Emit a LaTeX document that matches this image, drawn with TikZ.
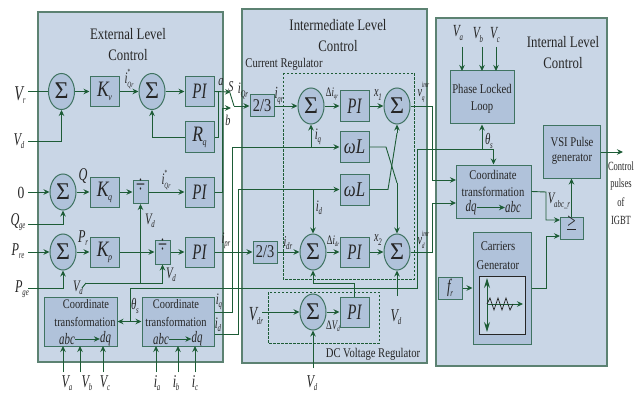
\documentclass[tikz,border=0pt]{standalone}
\usepackage{fontspec}
\setmainfont{Liberation Serif}
\newfontfamily\cond[FakeStretch=0.8]{Liberation Serif}
\newfontfamily\condb[FakeStretch=0.68]{Liberation Serif}
\usetikzlibrary{arrows.meta,shapes.geometric}
\definecolor{panelf}{HTML}{C9D6E6}
\definecolor{paneld}{HTML}{5C8272}
\definecolor{blockf}{HTML}{B0C2DA}
\definecolor{blockd}{HTML}{3F7361}
\definecolor{wire}{HTML}{1D5C36}
\definecolor{ink}{HTML}{262626}
\newcommand\fz[1]{\fontsize{#1}{#1}\selectfont}
% italic letter with subscript
\newcommand\IS[3]{\condb\fz{#1}\itshape #2\kern-.3pt\raisebox{-3.5pt}{\fz{10}#3}}
\newcommand\ISk[3]{\cond\fz{#1}\itshape #2\kern-.5pt\raisebox{-4pt}{\fz{10}#3}}
% italic letter with super and subscript
\newcommand\ISS[4]{\condb\fz{#1}\itshape #2\kern-.3pt\rlap{\raisebox{8.5pt}{\fz{8}#3}}\raisebox{-4pt}{\fz{8}#4}}
\newcommand\Sg{\smash{\raisebox{-7.5pt}{\makebox[0pt]{\fz{24}Σ}}}}
\tikzset{
  x=1pt,y=-1pt,
  panel/.style={draw=paneld,fill=panelf,line width=1.1pt},
  blk/.style={draw=blockd,fill=blockf,line width=1pt,inner sep=0pt,text=ink,font=\condb},
  sumb/.style={ellipse,draw=blockd,fill=blockf,line width=1pt,inner sep=0pt,minimum width=26,minimum height=36,text=ink},
  txt/.style={inner sep=0pt,text=ink,font=\cond},
  wr/.style={draw=wire,line width=.9pt},
  arr/.style={wr,-{Stealth[length=6pt,width=5.5pt]}},
  darr/.style={wr,{Stealth[length=6pt,width=5.5pt]}-{Stealth[length=6pt,width=5.5pt]}},
  dsh/.style={draw=wire,line width=.8pt,dash pattern=on 2.5pt off 1.5pt},
}
\begin{document}
\begin{tikzpicture}
\useasboundingbox (0,0) rectangle (634,393);
\fill[white] (0,0) rectangle (634,393);
% panels
\draw[panel] (38,12) rectangle (223,362);
\draw[panel] (242,9) rectangle (427,363);
\draw[panel] (436,18) rectangle (607,366);
\draw[dsh] (283,73) rectangle (414,279);
\draw[dsh] (268,292) rectangle (379,343);
% titles
\node[txt,font=\cond\fz{16}] (t1) at (128,34) {External Level};
\node[txt,font=\cond\fz{16}] (t2) at (128,55) {Control};
\node[txt,font=\cond\fz{16}] (t3) at (338,25) {Intermediate Level};
\node[txt,font=\cond\fz{16}] (t4) at (338,46) {Control};
\node[txt,font=\cond\fz{16}] (t5) at (563,42) {Internal Level};
\node[txt,font=\cond\fz{16}] (t6) at (563,63) {Control};
\node[txt,font=\cond\fz{13.3}] (t7) at (284,64) {Current Regulator};
\node[txt,font=\cond\fz{13.3}] (t8) at (373,354) {DC Voltage Regulator};
% external blocks
\node[sumb] (s1) at (61.5,91.5) {\Sg};
\node[blk,minimum width=29,minimum height=30] (kv) at (104.5,91.5) {\ISk{22}{K}{v}};
\node[sumb] (s2) at (152,91.5) {\Sg};
\node[blk,minimum width=29,minimum height=30] (pi1) at (199.5,91.5) {\condb\fz{22}\itshape PI};
\node[blk,minimum width=29,minimum height=30] (rq) at (199.5,137) {\ISk{22}{R}{q}};
\node[sumb] (s3) at (63,192) {\Sg};
\node[blk,minimum width=29,minimum height=30] (kq) at (104.5,192) {\ISk{22}{K}{q}};
\node[blk,minimum width=15,minimum height=23] (d1) at (140.5,192) {\smash{\fz{24}÷}};
\node[blk,minimum width=29,minimum height=30] (pi2) at (199.5,192) {\condb\fz{22}\itshape PI};
\node[sumb] (s4) at (63,252) {\Sg};
\node[blk,minimum width=29,minimum height=30] (kp) at (104.5,252) {\ISk{22}{K}{p}};
\node[blk,minimum width=15,minimum height=24] (d2) at (162.5,252) {\smash{\fz{24}÷}};
\node[blk,minimum width=29,minimum height=30] (pi3) at (199.5,252) {\condb\fz{22}\itshape PI};
\node[blk,minimum width=73,minimum height=49] (ct1) at (80.5,321.5) {};
\node[blk,minimum width=72,minimum height=49] (ct2) at (178,321.5) {};
% intermediate blocks
\node[blk,minimum width=24,minimum height=22,font=\cond\fz{18}] (f1) at (262,106) {2/3};
\node[sumb] (s5) at (311,106) {\Sg};
\node[blk,minimum width=29,minimum height=31] (pi4) at (354.5,106) {\condb\fz{22}\itshape PI};
\node[sumb] (s6) at (397,106) {\Sg};
\node[blk,minimum width=29,minimum height=30] (wl1) at (354.5,147) {\cond\fz{21}\itshape ωL};
\node[blk,minimum width=29,minimum height=31] (wl2) at (354.5,189.5) {\cond\fz{21}\itshape ωL};
\node[blk,minimum width=24,minimum height=22,font=\cond\fz{18}] (f2) at (265,252) {2/3};
\node[sumb] (s7) at (313,252) {\Sg};
\node[blk,minimum width=29,minimum height=30] (pi5) at (354.5,252) {\condb\fz{22}\itshape PI};
\node[sumb] (s8) at (397,252) {\Sg};
\node[sumb] (s9) at (313,312) {\Sg};
\node[blk,minimum width=29,minimum height=30] (pi6) at (354.5,312) {\condb\fz{22}\itshape PI};
% internal blocks
\node[blk,minimum width=64,minimum height=53] (pll) at (482,97.5) {};
\node[blk,minimum width=57,minimum height=52] (vsi) at (571.5,152) {};
\node[blk,minimum width=75,minimum height=53] (ct3) at (493.5,191.5) {};
\node[blk,minimum width=23,minimum height=22] (ge) at (571.5,228) {\smash{\fz{22}\underline{>}}};
\node[blk,minimum width=58,minimum height=112] (cg) at (502,288) {};
\node[draw=black!85,fill=panelf,line width=.8pt,minimum width=46,minimum height=58,inner sep=0pt] (plot) at (502,305) {};
\node[blk,minimum width=24,minimum height=22] (fr) at (450,288) {\IS{19}{f}{r}};
% block texts
\node[txt,font=\cond\fz{13}] (c1a) at (86,304.5) {Coordinate};
\node[txt,font=\cond\fz{13}] (c1b) at (85,322) {transformation};
\node[txt,font=\condb\fz{16}\itshape] (c1c) at (67,339) {abc};
\node[txt,font=\condb\fz{16}\itshape] (c1d) at (105.5,339) {dq};
\node[txt,font=\cond\fz{13}] (c2a) at (176,304.5) {Coordinate};
\node[txt,font=\cond\fz{13}] (c2b) at (176,322) {transformation};
\node[txt,font=\condb\fz{16}\itshape] (c2c) at (161,339) {abc};
\node[txt,font=\condb\fz{16}\itshape] (c2d) at (197,339) {dq};
\node[txt,font=\cond\fz{13.3}] (c3a) at (493,175) {Coordinate};
\node[txt,font=\cond\fz{13.3}] (c3b) at (493,191.5) {transformation};
\node[txt,font=\condb\fz{16}\itshape] (c3c) at (471,207.5) {dq};
\node[txt,font=\condb\fz{16}\itshape] (c3d) at (513,207.5) {abc};
\node[txt,font=\cond\fz{13.3}] (p1) at (482,89) {Phase Locked};
\node[txt,font=\cond\fz{13.3}] (p2) at (482,108) {Loop};
\node[txt,font=\cond\fz{13.3}] (v1) at (572,142) {VSI Pulse};
\node[txt,font=\cond\fz{13.3}] (v2) at (572,159) {generator};
\node[txt,font=\cond\fz{13.3}] (g1) at (498,246) {Carriers};
\node[txt,font=\cond\fz{13.3}] (g2) at (498,265) {Generator};
\node[txt,font=\condb\fz{12.5}] (o1) at (621,166) {Control};
\node[txt,font=\condb\fz{12.5}] (o2) at (621,184) {pulses};
\node[txt,font=\condb\fz{12.5}] (o3) at (621,202) {of};
\node[txt,font=\condb\fz{12.5}] (o4) at (621,220) {IGBT};
% outer labels
\node[txt] (Vr) at (20,95) {\IS{21}{V}{r}};
\node[txt] (Vd) at (19,141) {\IS{18}{V}{d}};
\node[txt,font=\cond\fz{17}] (zero) at (21,193) {0};
\node[txt] (Qge) at (18,222) {\IS{18}{Q}{ge}};
\node[txt] (Pre) at (18,251) {\IS{18}{P}{re}};
\node[txt] (Pge) at (22,289) {\IS{18}{P}{ge}};
\node[txt] (iQ1) at (129,79) {\ISS{16}{i}{*}{Qr}};
\node[txt] (iQ2) at (166,180) {\ISS{16}{i}{*}{Qr}};
\node[txt,font=\condb\fz{18}\itshape] (Qa) at (83,176) {Q};
\node[txt] (Pr) at (83,238) {\IS{18}{P}{r}};
\node[txt,font=\condb\fz{15}\itshape] (la) at (221,82) {a};
\node[txt,font=\condb\fz{15}\itshape] (lS) at (231,87) {S};
\node[txt,font=\condb\fz{15}\itshape] (lb) at (228,120) {b};
\node[txt] (iQr) at (243,91) {\IS{16}{i}{Qr}};
\node[txt] (ipr) at (226,241) {\IS{16}{i}{pr}};
\node[txt] (Vd2) at (150,221) {\IS{16}{V}{d}};
\node[txt] (Vd3) at (171,275) {\IS{16}{V}{d}};
\node[txt] (Vd4) at (78,288) {\IS{16}{V}{d}};
\node[txt] (th1) at (135,306) {\IS{16}{θ}{s}};
\node[txt] (iq1) at (219,302) {\IS{16}{i}{q}};
\node[txt] (id1) at (218,325) {\IS{16}{i}{d}};
\node[txt] (Va1) at (67,383) {\IS{18}{V}{a}};
\node[txt] (Vb1) at (87,383) {\IS{18}{V}{b}};
\node[txt] (Vc1) at (105,383) {\IS{18}{V}{c}};
\node[txt] (ia) at (157,383) {\IS{18}{i}{a}};
\node[txt] (ib) at (176,383) {\IS{18}{i}{b}};
\node[txt] (ic) at (195,383) {\IS{18}{i}{c}};
\node[txt] (iqr) at (279,96) {\IS{17}{i}{qr}};
\node[txt] (dq1) at (332,94) {\condb\fz{13}Δ\itshape i\raisebox{-2.5pt}{\fz{7}qr}};
\node[txt] (x1) at (378,95) {\IS{15}{x}{1}};
\node[txt] (vq) at (421,92) {\ISS{15}{v}{imr}{q}};
\node[txt] (iq2) at (318,137) {\IS{16}{i}{q}};
\node[txt] (id2) at (319,208) {\IS{16}{i}{d}};
\node[txt] (idr) at (288,243) {\IS{15}{i}{dr}};
\node[txt] (dq2) at (333,241) {\condb\fz{13}Δ\itshape i\raisebox{-2.5pt}{\fz{7}dr}};
\node[txt] (x2) at (378,240) {\IS{15}{x}{2}};
\node[txt] (vd) at (421,240) {\ISS{15}{v}{imr}{d}};
\node[txt] (Vdr) at (256,316) {\IS{20}{V}{dr}};
\node[txt] (dV) at (333,326) {\condb\fz{13}Δ\itshape V\raisebox{-2.5pt}{\fz{8}d}};
\node[txt] (Vd5) at (396,317) {\IS{18}{V}{d}};
\node[txt] (Vd6) at (312,383) {\IS{18}{V}{d}};
\node[txt] (Va2) at (458,33) {\IS{17}{V}{a}};
\node[txt] (Vb2) at (478,35) {\IS{17}{V}{b}};
\node[txt] (Vc2) at (495,35) {\IS{17}{V}{c}};
\node[txt] (th2) at (489,141) {\IS{16}{θ}{s}};
\node[txt] (Vabc) at (559,201) {\IS{16}{V}{abc\_r}};
% free ends
\coordinate (eVr) at (28,91.5);
\coordinate (eVd) at (28,141);
\coordinate (e0) at (28,192);
\coordinate (eQ) at (28,224);
\coordinate (eP) at (28,252);
\coordinate (ePg) at (28,288);
\coordinate (swA) at (231,92);
\coordinate (swB) at (231,108);
\coordinate (sw1) at (230,93);
\coordinate (sw2) at (234,106);
\coordinate (jR) at (218,91.5);
\coordinate (jB) at (222,108);
\coordinate (vdL) at (82,288);
\coordinate (vdM) at (86,283);
\coordinate (thJ) at (130,288);
\coordinate (thR) at (417,288);
\coordinate (thT) at (417,149);
\coordinate (thU) at (482,149);
\coordinate (thA) at (493.5,149);
\coordinate (x1a) at (386,147);
\coordinate (x1b) at (397,183);
\coordinate (x2a) at (388,189.5);
\coordinate (x2b) at (397,133);
% external connectors
\draw[wr] (eVr) -- (s1);
\draw[arr] (eVd) -| (s1.south);
\draw[arr] (s1) -- (kv);
\draw[arr] (kv) -- (s2);
\draw[arr] (s2) -- (pi1);
\draw[arr] (rq.west) -| (s2.south);
\draw[arr] (pi1.east) -- (swA);
\draw[wr] (rq.east) -| (jR);
\draw[arr] (pi2.east) -| (jB) -- (swB);
\draw[arr] (e0) -- (s3);
\draw[arr] (eQ) -| (s3.south);
\draw[arr] (s3) -- (kq);
\draw[arr] (kq) -- (d1);
\draw[arr] (d1) -- (pi2);
\draw[arr] (eP) -- (s4);
\draw[arr] (ePg) -| (s4.south);
\draw[arr] (s4) -- (kp);
\draw[arr] (kp) -- (d2);
\draw[arr] (d2) -- (pi3);
\draw[arr] (pi3) -- (f2);
\draw[wr] (vdL) -- (vdM);
\draw[arr] (vdM) -| (d2.south);
\draw[arr] (140.5,283) -- (d1.south);
\draw[darr] (ct1.east) -- (ct2.west);
\draw[wr] (thJ) -- (130,321.5);
\draw[wr] (thJ) -- (thR) -- (thT) -- (thA);
\draw[arr] (thA) -- (ct3.north);
\draw[arr] (thU) -- (pll.south);
\draw[arr] (c1c.east) -- (c1d.west);
\draw[arr] (c2c.east) -- (c2d.west);
\draw[arr] (c3c.east) -- (c3d.west);
\foreach \a/\b in {63/Va1,80/Vb1,103/Vc1,156/ia,178/ib,195/ic}{
  \draw[arr] (\a,372) -- (\a,346);
}
% switch and intermediate
\draw[wr] (sw1) -- (sw2);
\draw[arr] (sw2) -- (f1);
\draw[arr] (f1) -- (s5);
\draw[arr] (s5) -- (pi4);
\draw[arr] (pi4) -- (s6);
\draw[arr] (s6.east) -- (432,106) |- (456,180);
\draw[arr] (s8.east) -- (432,252) |- (456,203);
\draw[arr] (f2) -- (s7);
\draw[arr] (s7) -- (pi5);
\draw[arr] (pi5) -- (s8);
\draw[arr] (ct2.east |- 0,312) -- (232,312) |- (wl1.west);
\draw[arr] (ct2.east |- 0,334) -- (238,334) |- (wl2.west);
\draw[arr] (311,147) -- (s5.south);
\draw[arr] (313,189.5) -- (s7.north);
\draw[wr] (wl1.east) -- (x1a) -- (x1b);
\draw[arr] (x1b) -- (s8.north);
\draw[wr] (wl2.east) -- (x2a) -- (x2b);
\draw[arr] (x2b) -- (s6.south);
\draw[arr] (pi6.north) |- (313,283) -- (s7.south);
\draw[arr] (262,312) -- (s9);
\draw[arr] (s9) -- (pi6);
\draw[arr] (313,368) -- (s9.south);
\draw[arr] (397,296) -- (s8.south);
% internal
\foreach \a in {462,482,496}{ \draw[arr] (\a,47) -- (\a,71); }
\draw[arr] (vsi.east) -- (623,152);
\draw[arr] (ge.north) -- (vsi.south);
\draw[arr] (ct3.east) -- (546,192) |- (560,220);
\draw[arr] (cg.east) -- (546,288) |- (560,236);
\draw[arr] (fr) -- (cg);
\draw[wire,line width=1pt,{Stealth[length=10pt,width=6pt]}-{Stealth[length=10pt,width=6pt]}] (487,278) -- (487,332);
\draw[arr] (487,304) -- (523,304);
\draw[black!85,line width=.7pt] (487,304) -- (490,298) -- (494,310) -- (498,298) -- (502,310) -- (506,298) -- (510,310) -- (513,304);
\end{tikzpicture}
\end{document}
